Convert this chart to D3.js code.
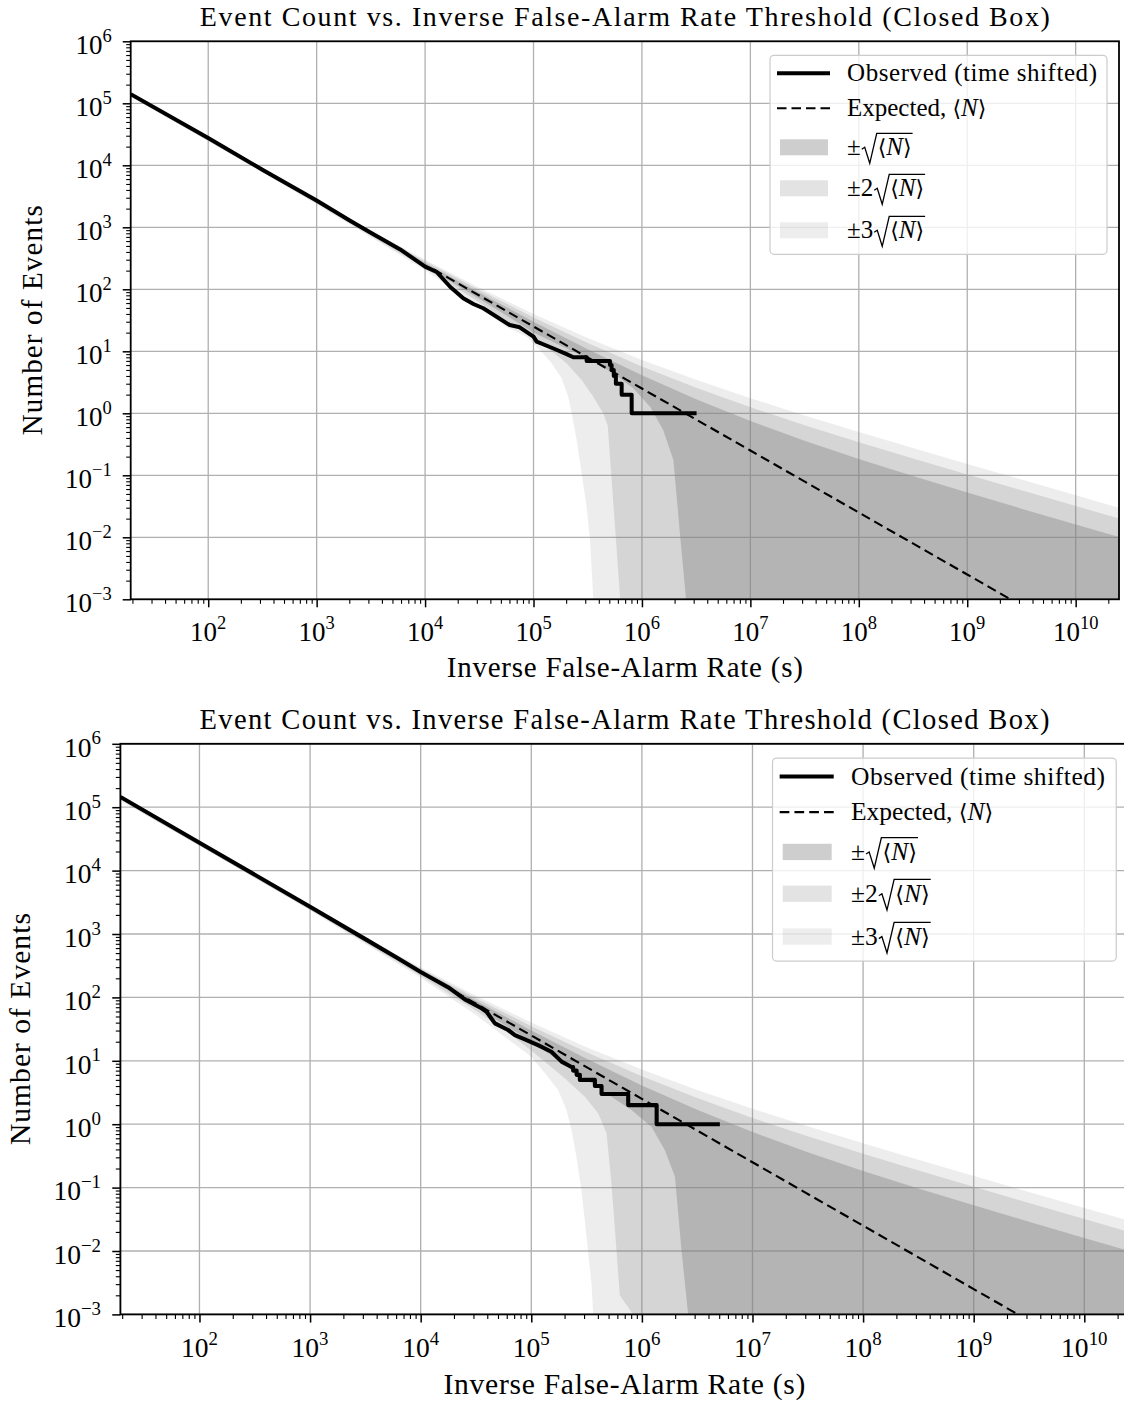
<!DOCTYPE html>
<html>
<head>
<meta charset="utf-8">
<script src="https://cdn.jsdelivr.net/npm/d3@7"></script>
<style>
  body { margin: 0; background: #fff; }
  svg text { font-family: "Liberation Serif", "Times New Roman", "DejaVu Serif", serif; fill: #000; }
</style>
</head>
<body>
<svg id="chart" width="1124" height="1404"></svg>
<script>
// ---- texts ----
const titleText = "Event Count vs. Inverse False-Alarm Rate Threshold (Closed Box)";
const xLabelText = "Inverse False-Alarm Rate (s)";
const yLabelText = "Number of Events";
const legendLabels = ["Observed (time shifted)", "Expected, ", "\u00b1", "\u00b12", "\u00b13"];

// ---- axes ----
const xDomain = [19.28, 2.51e10];
const yDomain = [1e-3, 1e6];
const xTickExp = [2, 3, 4, 5, 6, 7, 8, 9, 10];
const yTickExp = [-3, -2, -1, 0, 1, 2, 3, 4, 5, 6];

// ---- expected count <N> ----
const expIfar = [1.2e4, 1e5, 1e6, 1e7, 1e8, 1e9, 1e10, 2.51e10];
const expCount = [209, 25.1, 2.51, 0.251, 0.0251, 0.00251, 2.51e-4, 1.0e-4];

// ---- upper edges of the +-k sqrt<N> bands (shared by both panels) ----
const bandIfar = [19.3, 100, 1e3, 1e4, 3.16e4, 1e5, 3.16e5, 1e6, 3.16e6, 1e7, 3.16e7, 1e8, 3.16e8, 1e9, 3.16e9, 1e10, 2.51e10];
const upper1 = [1.304e5, 2.526e4, 2560, 266.8, 88.3, 30.1, 10.76, 4.09, 1.685, 0.752, 0.361, 0.1835, 0.097, 0.0526, 0.029, 0.0161, 0.0101];
const upper2 = [1.307e5, 2.542e4, 2610, 282.7, 97.2, 35.1, 13.58, 5.68, 2.58, 1.253, 0.643, 0.342, 0.186, 0.1027, 0.0572, 0.0319, 0.0201];
const upper3 = [1.311e5, 2.558e4, 2660, 298.5, 106.1, 40.1, 16.4, 7.26, 3.47, 1.754, 0.925, 0.5, 0.275, 0.1528, 0.0853, 0.0478, 0.0301];

// ---- top panel: observed and lower band edges ----
const obsTopIfar = [19.3, 100, 316, 1000, 2000, 3160, 5900, 1.0e4, 1.28e4, 1.70e4, 2.25e4, 2.79e4, 3.44e4, 4.57e4, 6.03e4, 7.46e4,
  1.0e5, 1.07e5, 1.51e5, 2.02e5, 2.33e5, 3.09e5, 3.09e5, 5.07e5, 5.07e5, 5.25e5, 5.25e5, 5.50e5, 5.50e5, 5.75e5, 5.75e5,
  6.50e5, 6.50e5, 8.04e5, 8.04e5, 3.19e6];
const obsTopCount = [1.40e5, 2.75e4, 8.5e3, 2.7e3, 1.3e3, 820, 440, 232, 190, 110, 71.6, 58, 49.4, 36.1, 26.5, 24.4,
  17.2, 14.3, 11.2, 9, 8, 8, 7, 7, 6, 6, 5, 5, 4, 4, 3, 3, 2, 2, 1, 1];

const lowTop1Ifar = [19.3, 100, 1e3, 1e4, 3.16e4, 1e5, 3.09e5, 5.45e5, 8.32e5, 1.19e6, 1.57e6, 1.95e6, 2.24e6, 2.55e6, 2.51e10];
const lowTop1 = [1.296e5, 2.494e4, 2460, 235.2, 70.5, 20.1, 7.7, 4.42, 2.53, 1.28, 0.538, 0.177, 0.0116, 0.001, 0.001];
const lowTop2Ifar = [19.3, 100, 1e3, 1e4, 3.16e4, 5.62e4, 1.42e5, 2.02e5, 2.78e5, 3.56e5, 4.40e5, 4.84e5, 6.31e5, 2.51e10];
const lowTop2 = [1.293e5, 2.478e4, 2410, 219.3, 61.6, 31.3, 10.5, 6.4, 3.44, 1.85, 1.0, 0.63, 0.001, 0.001];
const lowTop3Ifar = [19.3, 100, 1e3, 1e4, 3.16e4, 5.62e4, 8.65e4, 1.15e5, 1.47e5, 1.82e5, 2.09e5, 2.25e5, 2.50e5, 2.78e5, 3.09e5, 3.32e5, 3.56e5, 2.51e10];
const lowTop3 = [1.289e5, 2.462e4, 2360, 203.5, 52.7, 24.6, 17.2, 10.5, 6.4, 3.67, 1.85, 1.0, 0.37, 0.108, 0.031, 0.0091, 0.001, 0.001];

// ---- bottom panel: observed and lower band edges ----
const obsBotIfar = [19.3, 100, 1000, 3160, 6270, 1.0e4, 1.77e4, 2.51e4, 3.55e4, 3.94e4, 4.69e4, 6.18e4, 7.11e4, 8.75e4,
  1.15e5, 1.52e5, 1.88e5, 2.31e5, 2.39e5, 2.39e5, 2.57e5, 2.57e5, 2.75e5, 2.75e5, 3.76e5, 3.76e5, 4.32e5, 4.32e5,
  7.52e5, 7.52e5, 1.36e6, 1.36e6, 5.07e6];
const obsBotCount = [1.45e5, 2.75e4, 2.7e3, 830, 410, 251, 145, 93, 67.3, 59.4, 39, 30.6, 25.5, 21.8,
  17.7, 13.9, 9.7, 8, 8, 7, 7, 6, 6, 5, 5, 4, 4, 3, 3, 2, 2, 1, 1];

const lowBot1Ifar = [19.3, 100, 1e3, 1e4, 3.16e4, 1e5, 3.16e5, 5.31e5, 8.05e5, 1.22e6, 1.61e6, 1.99e6, 2.28e6, 2.62e6, 2.51e10];
const lowBot1 = [1.296e5, 2.494e4, 2460, 235.2, 70.5, 20.1, 4.97, 2.72, 1.67, 0.914, 0.392, 0.149, 0.0104, 0.001, 0.001];
const lowBot2Ifar = [19.3, 100, 1e3, 1e4, 3.16e4, 5.62e4, 1e5, 2.01e5, 3.05e5, 4.03e5, 4.79e5, 5.31e5, 5.89e5, 6.31e5, 8.34e5, 2.51e10];
const lowBot2 = [1.293e5, 2.478e4, 2410, 219.3, 61.6, 31.3, 14.6, 5.3, 2.72, 1.49, 0.718, 0.117, 0.0105, 0.002, 0.001, 0.001];
const lowBot3Ifar = [19.3, 100, 1e3, 1e4, 3.16e4, 5.62e4, 1.0e5, 1.33e5, 1.75e5, 2.08e5, 2.31e5, 2.56e5, 2.84e5, 3.16e5, 3.50e5, 3.63e5, 2.51e10];
const lowBot3 = [1.289e5, 2.462e4, 2360, 203.5, 52.7, 24.6, 11.6, 6.35, 3.46, 1.67, 0.81, 0.307, 0.0916, 0.0168, 0.0031, 0.001, 0.001];

const bandAlpha = [0.39, 0.22, 0.14];   // k = 1, 2, 3
const bandGray = "#808080";

const panels = [
  { id: "top", left: 130.7, right: 1119, top: 41.3, bottom: 599.3, s: 1,
    xLabelW: 356, yLabelW: 230, obsLabelW: 250,
    obs: [obsTopIfar, obsTopCount],
    lower: [[lowTop1Ifar, lowTop1], [lowTop2Ifar, lowTop2], [lowTop3Ifar, lowTop3]] },
  { id: "bot", left: 120.4, right: 1128.5, top: 743.8, bottom: 1314.4, s: 1.02,
    xLabelW: 362, yLabelW: 232, obsLabelW: 254,
    obs: [obsBotIfar, obsBotCount],
    lower: [[lowBot1Ifar, lowBot1], [lowBot2Ifar, lowBot2], [lowBot3Ifar, lowBot3]] }
];

const svg = d3.select("#chart");

const fmtExp = e => e < 0 ? "\u2212" + (-e) : String(e);

function powLabel(t, e, s) {
  t.append("tspan").text("10");
  t.append("tspan").attr("dy", -12 * s).attr("font-size", 18.5 * s).text(fmtExp(e));
}

function drawPanel(p) {
  const s = p.s;
  const x = d3.scaleLog().domain(xDomain).range([p.left, p.right]);
  const y = d3.scaleLog().domain(yDomain).range([p.bottom, p.top]);
  const line = d3.line().x(d => x(d[0])).y(d => y(d[1]));
  const root = svg.append("g");

  root.append("clipPath").attr("id", "clip-" + p.id)
    .append("rect")
      .attr("x", p.left).attr("y", p.top)
      .attr("width", p.right - p.left).attr("height", p.bottom - p.top);

  // grid
  const grid = root.append("g").attr("stroke", "#b0b0b0").attr("stroke-width", 1.3 * s);
  grid.selectAll(".gx").data(xTickExp).join("line").attr("class", "gx")
    .attr("x1", d => x(10 ** d)).attr("x2", d => x(10 ** d))
    .attr("y1", p.top).attr("y2", p.bottom);
  grid.selectAll(".gy").data(yTickExp).join("line").attr("class", "gy")
    .attr("x1", p.left).attr("x2", p.right)
    .attr("y1", d => y(10 ** d)).attr("y2", d => y(10 ** d));

  const plot = root.append("g").attr("clip-path", `url(#clip-${p.id})`);

  // bands
  const uppers = [upper1, upper2, upper3];
  [2, 1, 0].forEach(k => {
    const up = d3.zip(bandIfar, uppers[k]);
    const lo = d3.zip(p.lower[k][0], p.lower[k][1]).reverse();
    plot.append("path")
      .attr("d", line(up.concat(lo)) + "Z")
      .attr("fill", bandGray)
      .attr("fill-opacity", bandAlpha[k]);
  });

  // expected
  plot.append("path")
    .datum(d3.zip(expIfar, expCount))
    .attr("d", line)
    .attr("fill", "none")
    .attr("stroke", "#000")
    .attr("stroke-width", 2.1 * s)
    .attr("stroke-dasharray", `${9.5 * s} ${5 * s}`);

  // observed
  plot.append("path")
    .datum(d3.zip(p.obs[0], p.obs[1]))
    .attr("d", line)
    .attr("fill", "none")
    .attr("stroke", "#000")
    .attr("stroke-width", 4 * s)
    .attr("stroke-linejoin", "round");

  // spines
  root.append("rect")
    .attr("x", p.left).attr("y", p.top)
    .attr("width", p.right - p.left).attr("height", p.bottom - p.top)
    .attr("fill", "none").attr("stroke", "#000").attr("stroke-width", 1.8 * s);

  // ticks
  const xMinor = d3.range(1, 11).flatMap(e => d3.range(2, 10).map(m => m * 10 ** e))
    .filter(v => v >= xDomain[0] && v <= xDomain[1]);
  const yMinor = d3.range(-3, 6).flatMap(e => d3.range(2, 10).map(m => m * 10 ** e));
  const noLabel = () => "";
  const clean = (g, w) => {
    g.select(".domain").remove();
    g.selectAll("text").remove();
    g.selectAll("line").attr("stroke-width", w);
  };

  root.append("g").attr("transform", `translate(0,${p.bottom})`)
    .call(d3.axisBottom(x).tickValues(xMinor).tickSize(4.5 * s).tickFormat(noLabel))
    .call(g => clean(g, 1.1 * s));
  root.append("g").attr("transform", `translate(0,${p.bottom})`)
    .call(d3.axisBottom(x).tickValues(xTickExp.map(e => 10 ** e)).tickSize(8 * s).tickFormat(noLabel))
    .call(g => clean(g, 1.5 * s));
  root.append("g").attr("transform", `translate(${p.left},0)`)
    .call(d3.axisLeft(y).tickValues(yMinor).tickSize(4.5 * s).tickFormat(noLabel))
    .call(g => clean(g, 1.1 * s));
  root.append("g").attr("transform", `translate(${p.left},0)`)
    .call(d3.axisLeft(y).tickValues(yTickExp.map(e => 10 ** e)).tickSize(8 * s).tickFormat(noLabel))
    .call(g => clean(g, 1.5 * s));

  // tick labels
  const xl = root.append("g").attr("font-size", 27 * s).attr("text-anchor", "middle");
  xTickExp.forEach(e => {
    powLabel(xl.append("text").attr("x", x(10 ** e)).attr("y", p.bottom + 42 * s), e, s);
  });
  const yl = root.append("g").attr("font-size", 27 * s).attr("text-anchor", "end");
  yTickExp.forEach(e => {
    powLabel(yl.append("text").attr("x", p.left - 19 * s).attr("y", y(10 ** e) + 12.5 * s), e, s);
  });

  // titles
  const cx = (p.left + p.right) / 2;
  root.append("text")
    .attr("x", cx).attr("y", p.top - 15 * s)
    .attr("text-anchor", "middle").attr("font-size", 28 * s)
    .attr("textLength", 850).attr("lengthAdjust", "spacing")
    .text(titleText);
  root.append("text")
    .attr("x", cx).attr("y", p.bottom + 78 * s)
    .attr("text-anchor", "middle").attr("font-size", 29 * s)
    .attr("textLength", p.xLabelW).attr("lengthAdjust", "spacing")
    .text(xLabelText);
  root.append("text")
    .attr("transform", `translate(${p.left - 89 * s},${(p.top + p.bottom) / 2}) rotate(-90)`)
    .attr("text-anchor", "middle").attr("font-size", 29 * s)
    .attr("textLength", p.yLabelW).attr("lengthAdjust", "spacing")
    .text(yLabelText);

  // legend
  const lw = 337 * s, lh = 199 * s;
  const lx0 = p.right - 12 * s - lw, ly0 = p.top + 14 * s;
  const lg = root.append("g");
  lg.append("rect")
    .attr("x", lx0).attr("y", ly0).attr("width", lw).attr("height", lh)
    .attr("rx", 4 * s)
    .attr("fill", "#fff").attr("fill-opacity", 0.8)
    .attr("stroke", "#cccccc").attr("stroke-width", 1.2 * s);

  const rowY = [18, 53, 92, 133, 175].map(v => ly0 + v * s);
  const hx0 = lx0 + 7 * s, hx1 = lx0 + 60 * s, tx = lx0 + 77 * s;

  lg.append("line").attr("x1", hx0).attr("x2", hx1).attr("y1", rowY[0]).attr("y2", rowY[0])
    .attr("stroke", "#000").attr("stroke-width", 4 * s);
  lg.append("line").attr("x1", hx0).attr("x2", hx1).attr("y1", rowY[1]).attr("y2", rowY[1])
    .attr("stroke", "#000").attr("stroke-width", 2.1 * s)
    .attr("stroke-dasharray", `${9.5 * s} ${5 * s}`);

  lg.append("text").attr("x", tx).attr("y", rowY[0] + 8 * s).attr("font-size", 25 * s)
    .attr("textLength", p.obsLabelW).attr("lengthAdjust", "spacing")
    .text(legendLabels[0]);

  const exp = lg.append("text").attr("x", tx).attr("y", rowY[1] + 8 * s).attr("font-size", 25 * s);
  exp.append("tspan").text(legendLabels[1]);
  exp.append("tspan").attr("font-family", "DejaVu Serif").attr("font-size", 22 * s).text("\u27e8");
  exp.append("tspan").attr("font-style", "italic").text("N");
  exp.append("tspan").attr("font-family", "DejaVu Serif").attr("font-size", 22 * s).text("\u27e9");

  [0, 1, 2].forEach(k => {
    const yy = rowY[2 + k];
    lg.append("rect")
      .attr("x", lx0 + 10 * s).attr("y", yy - 8 * s)
      .attr("width", 48 * s).attr("height", 16 * s)
      .attr("fill", bandGray).attr("fill-opacity", bandAlpha[k]);
    const t = lg.append("text").attr("x", tx).attr("y", yy + 8 * s).attr("font-size", 25 * s)
      .text(legendLabels[2 + k]);
    const rx = tx + t.node().getComputedTextLength() + 1 * s;
    const t2 = lg.append("text").attr("x", rx + 16 * s).attr("y", yy + 8 * s).attr("font-size", 25 * s);
    t2.append("tspan").attr("font-family", "DejaVu Serif").attr("font-size", 22 * s).text("\u27e8");
    t2.append("tspan").attr("font-style", "italic").text("N");
    t2.append("tspan").attr("font-family", "DejaVu Serif").attr("font-size", 22 * s).text("\u27e9");
    const w2 = t2.node().getComputedTextLength();
    lg.append("path")
      .attr("d", `M${rx},${yy + 2 * s} L${rx + 3 * s},${yy} L${rx + 8 * s},${yy + 16 * s} L${rx + 15 * s},${yy - 14 * s} L${rx + 17 * s + w2},${yy - 14 * s}`)
      .attr("fill", "none").attr("stroke", "#000").attr("stroke-width", 1.3 * s)
      .attr("stroke-linejoin", "miter");
  });
}

panels.forEach(drawPanel);
</script>
</body>
</html>
